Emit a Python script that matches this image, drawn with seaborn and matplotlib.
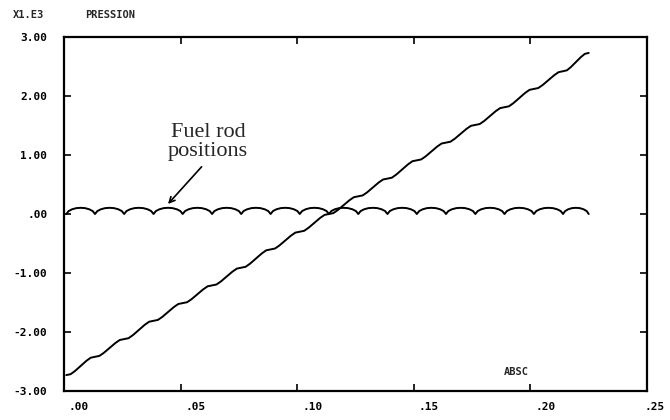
import matplotlib
matplotlib.use("Agg")
import matplotlib.pyplot as plt
from matplotlib.transforms import ScaledTranslation
import seaborn as sns
import numpy as np
import pandas as pd

# positions (m) of the gaps between fuel rods (start and end included)
rod_gap_x = [0.001, 0.0133, 0.0258, 0.0384, 0.0509, 0.0635, 0.0760, 0.0886, 0.1011,
             0.1136, 0.1262, 0.1387, 0.1513, 0.1638, 0.1764, 0.1889, 0.2015, 0.2140, 0.225]
# pressure (x1.E3) of the rising curve at each gap (the small plateaus)
gap_pressure = [-2.73, -2.42, -2.12, -1.81, -1.51, -1.21, -0.91, -0.60, -0.30,
                0.00, 0.30, 0.60, 0.91, 1.21, 1.51, 1.81, 2.12, 2.42, 2.73]
# shape of one rise between two gaps (fraction of pitch -> fraction of step)
step_frac = [0.0, 0.15, 0.3, 0.5, 0.7, 0.85]
step_rise = [0.0, 0.05, 0.22, 0.5, 0.78, 0.95]
# shape of one bump of the flat curve over a rod (fraction of pitch -> pressure)
arch_frac = [0.0, 0.08, 0.2, 0.35, 0.5, 0.65, 0.8, 0.92]
arch_height = [0.0, 0.05, 0.08, 0.10, 0.105, 0.10, 0.08, 0.05]

x_ticks = [0.0, 0.05, 0.10, 0.15, 0.20, 0.25]
x_labels = [".00", ".05", ".10", ".15", ".20", ".25"]
y_ticks = [-3, -2, -1, 0, 1, 2, 3]
y_labels = ["-3.00", "-2.00", "-1.00", ".00", "1.00", "2.00", "3.00"]


def build_curves():
    rx, ry, wx, wy = [], [], [], []
    for i in range(len(rod_gap_x) - 1):
        x0, x1 = rod_gap_x[i], rod_gap_x[i + 1]
        p0, p1 = gap_pressure[i], gap_pressure[i + 1]
        for f, r in zip(step_frac, step_rise):
            rx.append(x0 + (x1 - x0) * f)
            ry.append(p0 + (p1 - p0) * r)
        for f, h in zip(arch_frac, arch_height):
            wx.append(x0 + (x1 - x0) * f)
            wy.append(h)
    rx.append(rod_gap_x[-1]); ry.append(gap_pressure[-1])
    wx.append(rod_gap_x[-1]); wy.append(0.0)
    rising = pd.DataFrame({"absc": rx, "pression": ry})
    flat = pd.DataFrame({"absc": wx, "pression": wy})
    return rising, flat


sns.set_theme(style="ticks")
plt.rcParams["font.family"] = ["DejaVu Sans Mono", "DejaVu Sans"]
plt.rcParams["font.weight"] = "bold"

fig = plt.figure(figsize=(6.7, 4.2), dpi=100)
ax = fig.add_axes([0.0955, 0.069, 0.8702, 0.8429])

rising, flat = build_curves()
sns.lineplot(data=rising, x="absc", y="pression", sort=False, estimator=None,
             color="black", linewidth=1.4, ax=ax)
sns.lineplot(data=flat, x="absc", y="pression", sort=False, estimator=None,
             color="black", linewidth=1.4, ax=ax)

ax.set_xlim(0, 0.25)
ax.set_ylim(-3, 3)
ax.set_xlabel("")
ax.set_ylabel("")
ax.set_xticks(x_ticks)
ax.set_xticklabels(x_labels, ha="left")
ax.set_yticks(y_ticks)
ax.set_yticklabels(y_labels)
ax.tick_params(axis="both", direction="in", length=5, width=1.2, colors="black",
               labelsize=8, top=True, right=True)
ax.tick_params(axis="x", pad=8)
ax.tick_params(axis="y", pad=12)
# the plotter prints the x labels a little to the right of their ticks
shift = ScaledTranslation(5 / 100, 0, fig.dpi_scale_trans)
xlbls = ax.get_xticklabels()
for lbl in xlbls[:-1]:
    lbl.set_transform(lbl.get_transform() + shift)
# last label sits at the right edge of the page
xlbls[-1].set_ha("center")
xlbls[-1].set_transform(xlbls[-1].get_transform()
                        + ScaledTranslation(8 / 100, 0, fig.dpi_scale_trans))
for lbl in ax.get_xticklabels() + ax.get_yticklabels():
    lbl.set_fontweight("bold")
for side in ["left", "bottom", "right", "top"]:
    ax.spines[side].set_color("black")
    ax.spines[side].set_linewidth(1.6)

ax.text(0.0617, 1.22, "Fuel rod\npositions", family=["Liberation Serif", "DejaVu Serif"],
        fontsize=16, fontweight="normal", ha="center", va="center", linespacing=1.0)
ax.annotate("", xy=(0.0446, 0.17), xytext=(0.059, 0.80),
            arrowprops=dict(arrowstyle="->", color="black", lw=1.2,
                            mutation_scale=10, shrinkA=0, shrinkB=0))
ax.text(0.775, 0.054, "ABSC", transform=ax.transAxes, fontsize=7.5,
        fontweight="bold", ha="center", va="center")

fig.text(28 / 670, 1 - 15 / 420, "X1.E3", fontsize=7.5, fontweight="bold",
         ha="center", va="center")
fig.text(110 / 670, 1 - 15 / 420, "PRESSION", fontsize=7.5, fontweight="bold",
         ha="center", va="center")

fig.savefig("out.png", dpi=100)
